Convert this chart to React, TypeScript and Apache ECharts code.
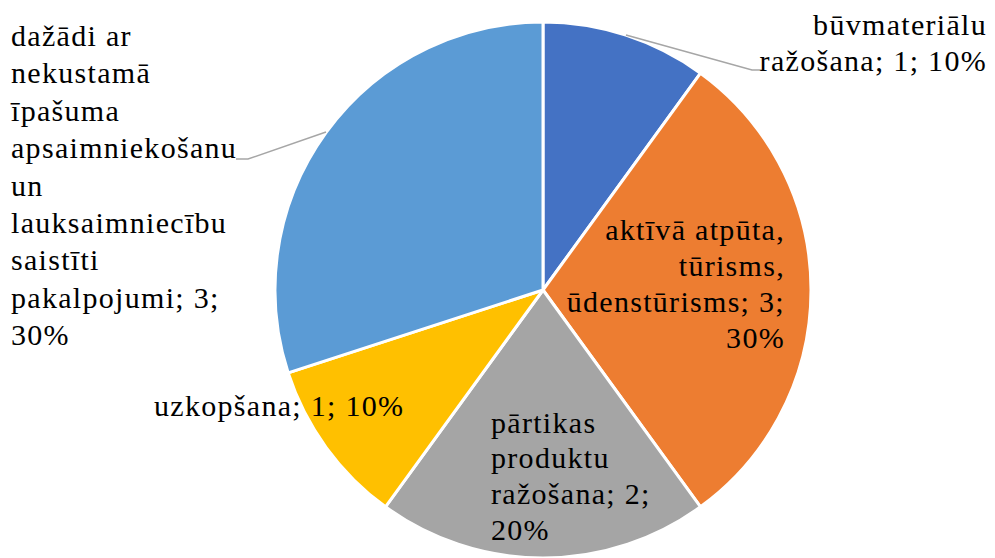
import React, { useEffect, useRef } from "react";
import * as echarts from "echarts";

const categories = [
  "būvmateriālu ražošana",
  "aktīvā atpūta, tūrisms, ūdenstūrisms",
  "pārtikas produktu ražošana",
  "uzkopšana",
  "dažādi ar nekustamā īpašuma apsaimniekošanu un lauksaimniecību saistīti pakalpojumi",
];
const values = [1, 3, 2, 1, 3];
const colors = ["#4472C4", "#ED7D31", "#A5A5A5", "#FFC000", "#5B9BD5"];
// display wrapping of the category names in the labels
const wrappedNames = [
  "būvmateriālu\nražošana",
  "aktīvā atpūta,\ntūrisms,\nūdenstūrisms",
  "pārtikas\nproduktu\nražošana",
  "uzkopšana",
  "dažādi ar\nnekustamā\nīpašuma\napsaimniekošanu\nun\nlauksaimniecību\nsaistīti\npakalpojumi",
];
const percentOnNewLine = [false, true, true, false, true];

const FS = 30;
const FONT_STR = "30px 'Liberation Serif', 'Times New Roman', serif";

export default function App() {
  const ref = useRef<HTMLDivElement>(null);
  useEffect(() => {
    document.body.style.margin = "0";
    const st = document.createElement("style");
    st.textContent = "#chart svg text { letter-spacing: 1.3px; }";
    document.head.appendChild(st);
    if (!ref.current) return;
    const chart = echarts.init(ref.current, undefined, { renderer: "svg" });
    const total = values.reduce((a, b) => a + b, 0);
    const labelText = categories.map(
      (_, i) =>
        wrappedNames[i] +
        "; " +
        values[i] +
        ";" +
        (percentOnNewLine[i] ? "\n" : " ") +
        Math.round((values[i] / total) * 100) +
        "%"
    );
    const layouts: any[] = [
      { x: 987, y0: 24.5, align: "right", lh: 36, pts: [[626, 35], [752, 70], [764, 70]] },
      { x: 785, y0: 229, align: "right", lh: 36 },
      { x: 491, y0: 422, align: "left", lh: 35.7 },
      { x: 154, y0: 405, align: "left", lh: 36 },
      { x: 11, y0: 35.5, align: "left", lh: 37.4, pts: [[326, 132], [248, 159], [236, 159]] },
    ];
    const graphics: any[] = [];
    layouts.forEach((l) => {
      if (l.pts)
        graphics.push({
          type: "polyline",
          shape: { points: l.pts },
          style: { stroke: "#A6A6A6", lineWidth: 1.5, fill: null },
          z: 10,
        });
    });
    layouts.forEach((l, i) => {
      labelText[i].split("\n").forEach((line, k) => {
        graphics.push({
          type: "text",
          x: l.x,
          y: l.y0 + k * l.lh,
          z: 11,
          style: {
            text: line,
            font: FONT_STR,
            fontFamily: "Liberation Serif",
            fontSize: FS,
            fill: "#000000",
            align: l.align,
            verticalAlign: "middle",
          },
        });
      });
    });
    chart.setOption({
      animation: false,
      series: [
        {
          type: "pie",
          center: [543, 290],
          radius: [0, 268],
          startAngle: 90,
          clockwise: true,
          avoidLabelOverlap: false,
          itemStyle: { borderColor: "#ffffff", borderWidth: 3 },
          label: { show: false },
          labelLine: { show: false },
          data: categories.map((name, i) => ({
            name,
            value: values[i],
            itemStyle: { color: colors[i] },
          })),
        },
      ],
      graphic: graphics,
    });
    return () => {
      chart.dispose();
      st.remove();
    };
  }, []);
  return <div id="chart" ref={ref} style={{ width: 995, height: 558 }} />;
}
